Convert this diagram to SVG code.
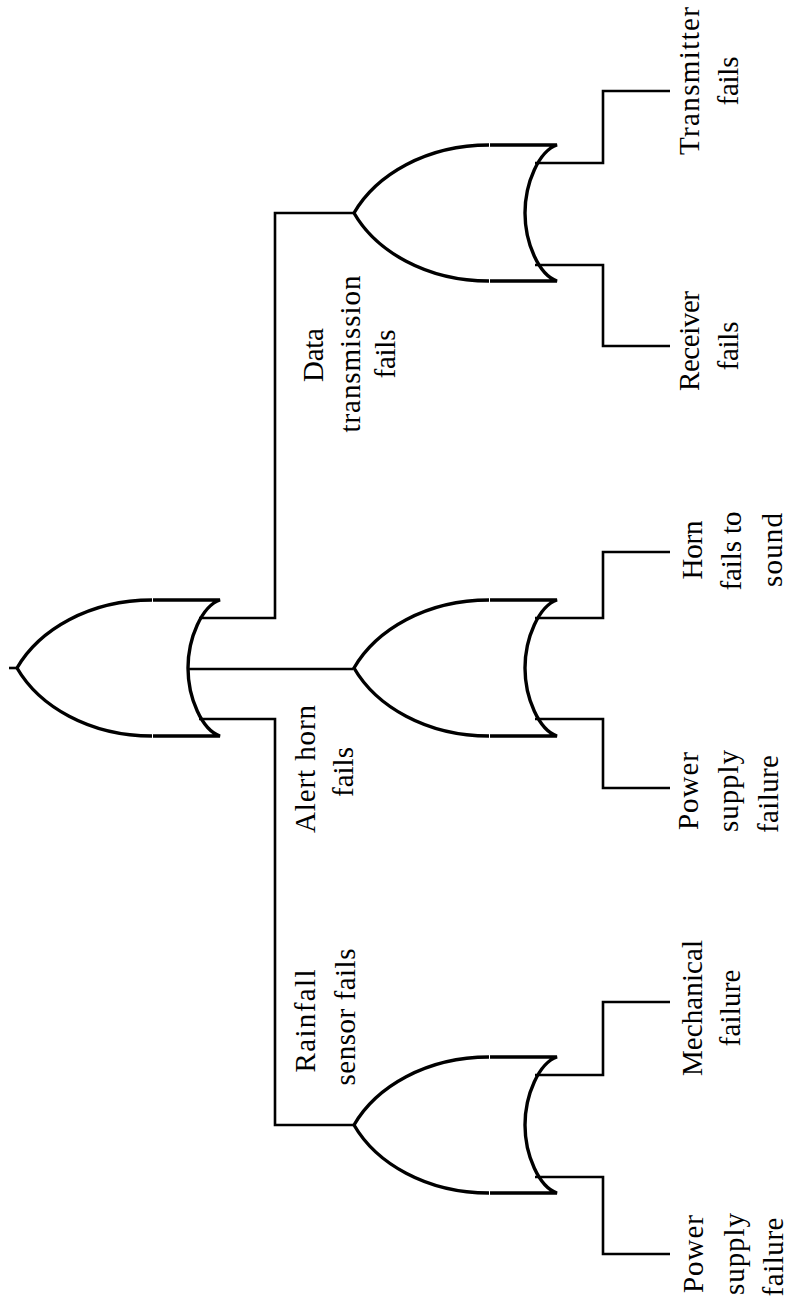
<svg xmlns="http://www.w3.org/2000/svg" width="789" height="1307" viewBox="0 0 789 1307">
<style>
.w{fill:none;stroke:#000;stroke-width:2.6}
.g{fill:none;stroke:#000;stroke-width:3.4}
text{font-family:"Liberation Serif","DejaVu Serif",serif;font-size:29px;fill:#000;text-anchor:middle}
</style>
<defs>
<path id="or" d="M135 -68C72 -68 22 -38 0 0C22 38 72 68 135 68M136 68H203C185 62 171 30 171 0C171 -30 185 -62 203 -68H136"/>
</defs>
<rect width="789" height="1307" fill="#fff"/>
<g id="connectors">
<path class="w" d="M9 668H17"/>
<path class="w" d="M199 618H275V213H353"/>
<path class="w" d="M187 669H353"/>
<path class="w" d="M199 719H275V1125H353"/>
<path class="w" d="M535 163H603V91H670"/>
<path class="w" d="M535 265H603V346H670"/>
<path class="w" d="M535 618H603V552H670"/>
<path class="w" d="M535 719H603V788H670"/>
<path class="w" d="M535 1075H603V1002H670"/>
<path class="w" d="M535 1177H603V1254H670"/>
</g>
<g id="gate-top"><use href="#or" class="g" x="17" y="668"/></g>
<g id="gate-data"><use href="#or" class="g" x="354" y="213"/></g>
<g id="gate-horn"><use href="#or" class="g" x="354" y="668"/></g>
<g id="gate-rain"><use href="#or" class="g" x="354" y="1125"/></g>
<g id="label-data"><text transform="translate(323,355) rotate(-90)" textLength="54">Data</text><text transform="translate(360,354) rotate(-90)" textLength="157">transmission</text><text transform="translate(395,354) rotate(-90)" textLength="49">fails</text></g>
<g id="label-alert"><text transform="translate(315,769) rotate(-90)" textLength="128">Alert horn</text><text transform="translate(353,772) rotate(-90)" textLength="50">fails</text></g>
<g id="label-rain"><text transform="translate(315,1021) rotate(-90)" textLength="103">Rainfall</text><text transform="translate(355,1017) rotate(-90)" textLength="137">sensor fails</text></g>
<g id="label-transmitter"><text transform="translate(699,81) rotate(-90)" textLength="148">Transmitter</text><text transform="translate(738,81) rotate(-90)" textLength="49">fails</text></g>
<g id="label-receiver"><text transform="translate(699,341) rotate(-90)" textLength="100">Receiver</text><text transform="translate(738,346) rotate(-90)" textLength="49">fails</text></g>
<g id="label-horn"><text transform="translate(702,550) rotate(-90)" textLength="59">Horn</text><text transform="translate(741,551) rotate(-90)" textLength="79">fails to</text><text transform="translate(782,550) rotate(-90)" textLength="74">sound</text></g>
<g id="label-power2"><text transform="translate(698,791) rotate(-90)" textLength="78">Power</text><text transform="translate(738,791) rotate(-90)" textLength="82">supply</text><text transform="translate(778,794) rotate(-90)" textLength="78">failure</text></g>
<g id="label-mech"><text transform="translate(702,1008) rotate(-90)" textLength="136">Mechanical</text><text transform="translate(740,1008) rotate(-90)" textLength="77">failure</text></g>
<g id="label-power1"><text transform="translate(703,1254) rotate(-90)" textLength="78">Power</text><text transform="translate(744,1254) rotate(-90)" textLength="82">supply</text><text transform="translate(783,1257) rotate(-90)" textLength="79">failure</text></g>
</svg>
